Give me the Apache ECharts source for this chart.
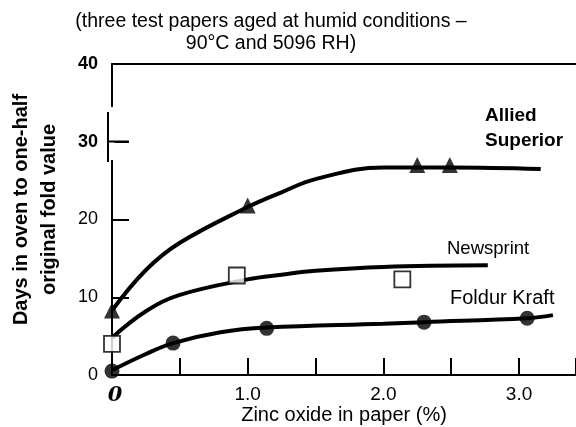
<!DOCTYPE html>
<html>
<head>
<meta charset="utf-8">
<script src="https://cdn.jsdelivr.net/npm/echarts@6/dist/echarts.min.js"></script>
<style>
  html, body { margin: 0; padding: 0; background: #fff; }
  #chart { width: 576px; height: 427px; }
</style>
</head>
<body>
<div id="chart"></div>
<script>
// measured points (Zinc oxide %, days)
const alliedPts = [[0, 8.3], [1.0, 21.8], [2.25, 27.0], [2.49, 27.0]];
const newsPts = [[0, 4.0], [0.92, 12.8], [2.14, 12.3]];
const foldurPts = [[0, 0.5], [0.45, 4.1], [1.14, 6.0], [2.3, 6.8], [3.06, 7.3]];

// hand-drawn fitted curves
const alliedCurve = [[0, 8.3], [0.25, 13.5], [0.5, 17.0], [1.0, 21.6], [1.25, 23.5], [1.5, 25.2], [2.0, 26.7], [2.5, 26.7], [3.16, 26.5]];
const newsCurve = [[0, 4.8], [0.25, 8.2], [0.5, 10.3], [1.0, 12.3], [1.25, 12.9], [1.5, 13.4], [2.0, 13.9], [2.77, 14.1]];
const foldurCurve = [[0, 0.6], [0.25, 2.7], [0.45, 4.1], [0.8, 5.5], [1.14, 6.1], [2.0, 6.6], [2.3, 6.8], [3.06, 7.3], [3.25, 7.7]];

const xMajor = [0, 1, 2, 3];
const yBold = [30, 40];

let myChart = echarts.init(document.getElementById('chart'));

const font = 'Liberation Sans, Arial, sans-serif';
const lineStyle = { color: '#000', width: 4 };

let option = {
  animation: false,
  backgroundColor: '#fff',
  textStyle: { fontFamily: font, color: '#000' },
  title: {
    text: '(three test papers aged at humid conditions \u2013\n90\u00b0C and 5096 RH)',
    left: 266,
    textAlign: 'center',
    top: 6,
    textStyle: { fontSize: 19.5, fontWeight: 'normal', lineHeight: 22, color: '#000' }
  },
  grid: { left: 112, right: 0, top: 64, bottom: 52, outerBoundsMode: 'none', containLabel: false },
  xAxis: [
    {
      type: 'value',
      min: 0,
      max: 3.42,
      interval: 0.5,
      name: 'Zinc oxide in paper (%)',
      nameLocation: 'middle',
      nameGap: 30,
      nameMoveOverlap: false,
      nameTextStyle: { fontSize: 20, color: '#000' },
      axisLine: { lineStyle: { color: '#000', width: 2 } },
      axisTick: { inside: true, length: 17, lineStyle: { color: '#000', width: 2 } },
      splitLine: { show: false },
      axisLabel: {
        margin: 10,
        fontSize: 19,
        color: '#000',
        formatter: function (v) {
          if (v === 0) return '{z|0}';
          if (xMajor.indexOf(v) >= 0) return v.toFixed(1);
          return '';
        },
        rich: { z: { fontFamily: 'DejaVu Serif, serif', fontStyle: 'italic', fontWeight: 'bold', fontSize: 21, padding: [0, 0, 0, 6] } }
      }
    },
    {
      type: 'value',
      position: 'top',
      min: 0,
      max: 3.42,
      axisLine: { show: true, lineStyle: { color: '#000', width: 2 } },
      axisTick: { show: false },
      axisLabel: { show: false },
      splitLine: { show: false }
    }
  ],
  yAxis: {
    type: 'value',
    min: 0,
    max: 40,
    interval: 10,
    name: 'Days in oven to one-half\noriginal fold value',
    nameLocation: 'middle',
    nameGap: 49,
    nameMoveOverlap: false,
    nameRotate: 90,
    nameTextStyle: { fontSize: 20, fontWeight: 'bold', color: '#000', lineHeight: 28, padding: [0, 0, 0, 20] },
    axisLine: { lineStyle: { color: '#000', width: 2 } },
    axisTick: { inside: true, length: 17, lineStyle: { color: '#000', width: 2 } },
    splitLine: { show: false },
    axisLabel: {
      margin: 14,
      fontSize: 18,
      color: '#000',
      formatter: function (v) {
        return yBold.indexOf(v) >= 0 ? '{b|' + v + '}' : String(v);
      },
      rich: { b: { fontWeight: 'bold', fontSize: 18 } }
    }
  },
  series: [
    { name: 'Allied Superior fit', type: 'line', smooth: 0.4, showSymbol: false, data: alliedCurve, lineStyle: lineStyle, z: 2 },
    { name: 'Newsprint fit', type: 'line', smooth: 0.4, showSymbol: false, data: newsCurve, lineStyle: lineStyle, z: 2 },
    { name: 'Foldur Kraft fit', type: 'line', smooth: 0.4, showSymbol: false, data: foldurCurve, lineStyle: lineStyle, z: 2 },
    { name: 'Allied Superior', type: 'scatter', symbol: 'triangle', symbolSize: 16, data: alliedPts, itemStyle: { color: '#000' }, z: 3 },
    { name: 'Newsprint', type: 'scatter', symbol: 'rect', symbolSize: 16, data: newsPts, itemStyle: { color: '#fff', borderColor: '#000', borderWidth: 1.8 }, z: 3 },
    { name: 'Foldur Kraft', type: 'scatter', symbol: 'circle', symbolSize: 15, data: foldurPts, itemStyle: { color: '#000' }, z: 3 }
  ],
  graphic: [
    // broken piece of the y axis near 30
    { type: 'line', z: 50, shape: { x1: 112, y1: 107, x2: 112, y2: 160 }, style: { stroke: '#fff', lineWidth: 5 } },
    { type: 'line', z: 51, shape: { x1: 108, y1: 112, x2: 108, y2: 162 }, style: { stroke: '#000', lineWidth: 2 } },
    { type: 'line', z: 51, shape: { x1: 108, y1: 141.5, x2: 129, y2: 141.5 }, style: { stroke: '#000', lineWidth: 2 } },
    // series labels
    { type: 'text', left: 485, top: 106, style: { text: 'Allied', font: 'bold 19px ' + font, fill: '#000' } },
    { type: 'text', left: 485, top: 131, style: { text: 'Superior', font: 'bold 19px ' + font, fill: '#000' } },
    { type: 'text', left: 447, top: 239, style: { text: 'Newsprint', font: '18.5px ' + font, fill: '#000' } },
    { type: 'text', left: 450, top: 288, style: { text: 'Foldur Kraft', font: '20px ' + font, fill: '#000' } }
  ]
};

myChart.setOption(option);
</script>
</body>
</html>
